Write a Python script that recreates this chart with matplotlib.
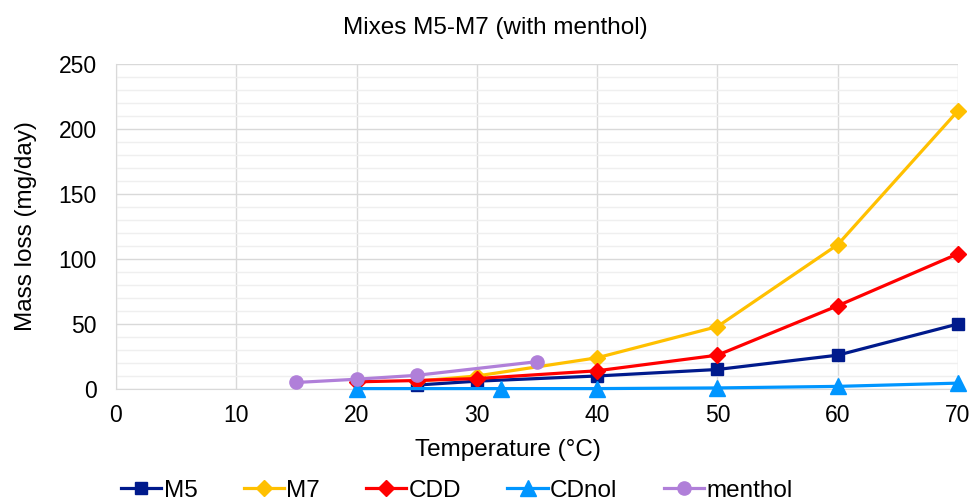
import matplotlib
matplotlib.use("Agg")
import matplotlib.pyplot as plt
from matplotlib.ticker import MultipleLocator

plt.rcParams['font.family'] = ['Liberation Sans', 'DejaVu Sans']

m5_x = [25, 30, 40, 50, 60, 70]
m5_y = [3, 6, 10, 15, 26, 50]
m7_x = [25, 30, 40, 50, 60, 70]
m7_y = [6, 10, 24, 48, 111, 214]
cdd_x = [20, 25, 30, 40, 50, 60, 70]
cdd_y = [5.5, 6.5, 8, 14, 26, 64, 104]
cdnol_x = [20, 32, 40, 50, 60, 70]
cdnol_y = [0.3, 0.3, 0.3, 0.8, 2, 4.5]
menthol_x = [15, 20, 25, 35]
menthol_y = [5, 7.5, 10.5, 21]

fig = plt.figure(figsize=(9.72, 5.01), dpi=100)
ax = fig.add_axes([0.1193, 0.2236, 0.8663, 0.6487])

lw = 2.3
ax.plot(m5_x, m5_y, color='#001A8C', marker='s', lw=lw, ms=9, label='M5', zorder=3, clip_on=False)
ax.plot(m7_x, m7_y, color='#FFC000', marker='D', lw=lw, ms=8.5, label='M7', zorder=3, clip_on=False)
ax.plot(cdd_x, cdd_y, color='#FF0000', marker='D', lw=lw, ms=8.5, label='CDD', zorder=3, clip_on=False)
ax.plot(cdnol_x, cdnol_y, color='#0096FF', marker='^', lw=lw, ms=11, label='CDnol', zorder=3, clip_on=False)
ax.plot(menthol_x, menthol_y, color='#B07FD9', marker='o', lw=lw, ms=9.5, label='menthol', zorder=4, clip_on=False)

ax.set_xlim(0, 70)
ax.set_ylim(0, 250)
ax.xaxis.set_major_locator(MultipleLocator(10))
ax.yaxis.set_major_locator(MultipleLocator(50))
ax.yaxis.set_minor_locator(MultipleLocator(10))
ax.grid(True, which='major', color='#D9D9D9', lw=1.0)
ax.grid(True, which='minor', axis='y', color='#EFEFEF', lw=1.0)
ax.set_axisbelow(True)
for s in ['top', 'right']:
    ax.spines[s].set_visible(False)
ax.spines['bottom'].set_color('#D9D9D9')
ax.spines['left'].set_color('#D9D9D9')
ax.tick_params(which='both', length=0, labelsize=16.5)
ax.tick_params(axis='y', pad=14)
ax.tick_params(axis='x', pad=11)

ax.set_xlabel('Temperature (°C)', fontsize=17.5, labelpad=9)
ax.xaxis.set_label_coords(0.466, -0.155)
ax.set_ylabel('Mass loss (mg/day)', fontsize=17.5, labelpad=15)
fig.suptitle('Mixes M5-M7 (with menthol)', fontsize=17.5, x=0.51, y=0.944, va='center')

fig.legend(loc='lower center', bbox_to_anchor=(0.47, -0.045), ncol=5, frameon=False,
           fontsize=17.5, handlelength=1.65, columnspacing=1.9, handletextpad=0.1)

fig.savefig('out.png', dpi=100)
